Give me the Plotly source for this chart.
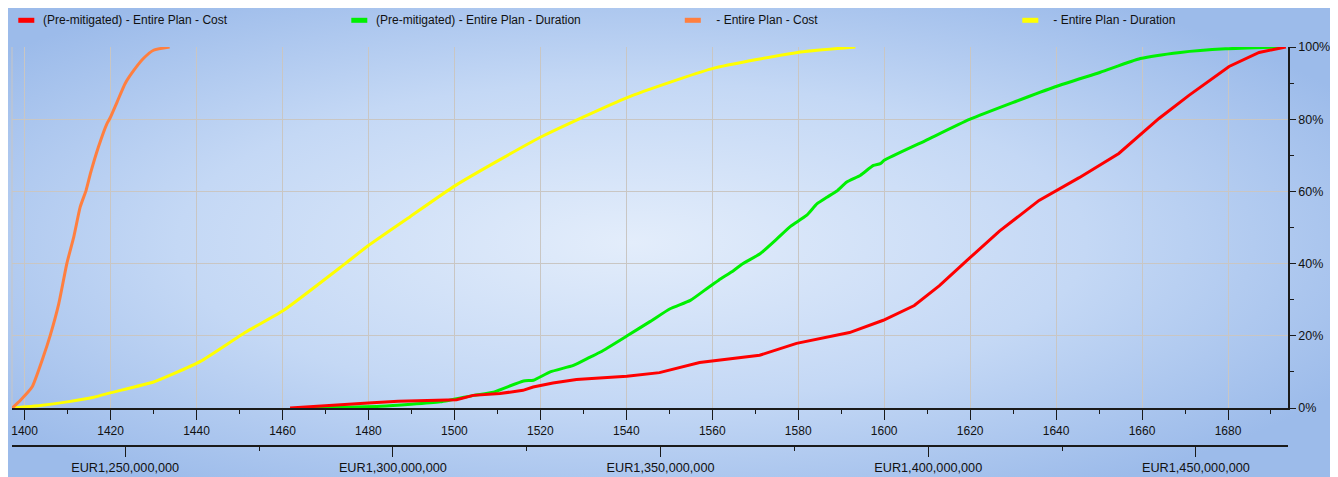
import base64
import plotly.graph_objects as go

# ---------------- data ----------------
# Cost curves: EUR millions vs cumulative %
cost_pre_x = [1280.8, 1287.3, 1295.4, 1301.0, 1305.0, 1311.9, 1315.0, 1320.0, 1324.3, 1326.2,
              1329.9, 1334.3, 1338.6, 1343.7, 1349.8, 1357.3, 1368.5, 1375.4, 1385.3, 1391.6,
              1397.4, 1402.1, 1407.7, 1413.3, 1420.7, 1428.2, 1435.6, 1443.1, 1448.7, 1456.2,
              1461.8, 1466.8]
cost_pre_y = [0, 0.7, 1.4, 1.9, 2.1, 2.3, 3.5, 4.0, 4.9, 5.8,
              6.9, 7.9, 8.3, 8.8, 9.8, 12.6, 14.6, 17.9, 20.9, 24.3,
              28.4, 33.9, 41.5, 49.0, 57.5, 63.8, 70.5, 80.2, 86.6, 94.6,
              98.5, 100]

cost_mit_x = [1228.9, 1230.4, 1232.6, 1234.8, 1236.0, 1237.6, 1239.1, 1240.4, 1241.6, 1242.7,
              1243.5, 1245.0, 1246.6, 1247.2, 1248.5, 1250.0, 1251.6, 1253.4, 1255.3, 1258.3]
cost_mit_y = [0, 2.1, 5.8, 14.6, 20.1, 28.9, 40.0, 47.4, 55.7, 60.3,
              64.9, 72.3, 78.8, 80.4, 84.8, 89.9, 93.5, 96.8, 99.1, 100]

# Duration curves: days vs cumulative %
dur_pre_x = [1465.3, 1482.8, 1496.7, 1504.5, 1509.1, 1516.1, 1518.4, 1522.3, 1527.7, 1531.6,
             1534.0, 1540.2, 1545.6, 1550.2, 1554.9, 1559.1, 1561.5, 1565.0, 1566.9, 1571.2,
             1575.1, 1578.2, 1582.0, 1584.4, 1586.7, 1589.0, 1591.3, 1594.5, 1597.5, 1599.1,
             1600.0, 1609.5, 1620.0, 1639.8, 1650.3, 1659.6, 1668.9, 1679.4, 1692.1]
dur_pre_y = [0, 0.5, 1.7, 3.5, 4.4, 7.5, 7.7, 10.0, 11.8, 14.1,
             15.5, 20.0, 24.0, 27.5, 29.8, 33.4, 35.4, 38.1, 39.8, 42.8,
             46.9, 50.3, 53.4, 56.6, 58.4, 60.1, 62.6, 64.5, 67.2, 67.7,
             68.6, 74.0, 80.0, 89.0, 93.0, 96.8, 98.5, 99.5, 100]

dur_mit_x = [1397.1, 1403.7, 1409.9, 1416.1, 1419.9, 1430.0, 1434.7, 1440.9, 1451.4, 1460.2,
             1474.6, 1480.0, 1489.7, 1500.2, 1520.0, 1540.2, 1560.0, 1579.8, 1593.3]
dur_mit_y = [0, 0.7, 1.7, 3.0, 4.2, 7.2, 9.5, 12.9, 21.0, 27.0,
             40.0, 45.0, 53.0, 61.6, 75.0, 86.0, 94.0, 98.5, 100]

series_names = ["(Pre-mitigated) - Entire Plan - Cost",
                "(Pre-mitigated) - Entire Plan - Duration",
                " - Entire Plan - Cost",
                " - Entire Plan - Duration"]
series_colors = ["#ff0000", "#00f000", "#ff7f3f", "#ffff00"]

dur_range = [1397.07, 1693.96]
cost_range_m = [1228.86, 1467.2]

# ---------------- layout geometry ----------------
# The page body has an 8px margin, so the figure is drawn 8px right/down.
OFF = 8
SW, SH = 1338, 477
W, H = SW - OFF, SH - OFF
PLOT_L, PLOT_R = 11.7, 1287.7
PLOT_T, AXIS_Y_PX = 46.7, 407.7
COST_AXIS_PX = 445.7
L = PLOT_L - OFF
R = SW - PLOT_R
T = PLOT_T - OFF
B = SH - COST_AXIS_PX
PW = W - L - R
PH = H - T - B


def px2x(px):
    return (px - OFF - L) / PW


def py2y(py):
    return (H - B - (py - OFF)) / PH


font_family = "Liberation Sans, Arial, sans-serif"
txt_col = "#111111"

fig = go.Figure()

order = [3, 2, 1, 0]
data_map = {
    0: (cost_pre_x, cost_pre_y, "x2"),
    1: (dur_pre_x, dur_pre_y, "x"),
    2: (cost_mit_x, cost_mit_y, "x2"),
    3: (dur_mit_x, dur_mit_y, "x"),
}
for i in order:
    xs, ys, ax = data_map[i]
    if ax == "x2":
        xs = [v * 1e6 for v in xs]
    shape = "linear" if i == 0 else "spline"
    fig.add_trace(go.Scatter(
        x=xs, y=ys, mode="lines", name=series_names[i],
        line=dict(color=series_colors[i], width=3, shape=shape, smoothing=0.5),
        xaxis=ax, yaxis="y", showlegend=False, hoverinfo="skip",
    ))

# background gradient (radial, light centre)
svg = """<svg xmlns='http://www.w3.org/2000/svg' width='1333' height='470' viewBox='0 0 1333 470' preserveAspectRatio='none'>
<defs><radialGradient id='g' cx='0.47' cy='0.5' r='0.62' gradientUnits='objectBoundingBox'>
<stop offset='0' stop-color='#e3edfb'/>
<stop offset='0.55' stop-color='#c4d8f5'/>
<stop offset='1' stop-color='#9cbbea'/>
</radialGradient></defs>
<rect x='0' y='0' width='1333' height='470' fill='url(#g)'/></svg>"""
src = "data:image/svg+xml;base64," + base64.b64encode(svg.encode()).decode()
bg_x0, bg_y0 = 5, 7
fig.add_layout_image(dict(
    source=src, xref="paper", yref="paper",
    x=px2x(bg_x0), y=py2y(bg_y0),
    sizex=(SW - bg_x0) / PW, sizey=(SH - bg_y0) / PH,
    xanchor="left", yanchor="top", sizing="stretch", layer="below",
))

grid_col = "#c9c6c3"
axis_col = "#1a1a1a"

shapes = [
    dict(type="line", xref="paper", yref="paper", x0=0, x1=0,
         y0=py2y(AXIS_Y_PX), y1=1, line=dict(color=grid_col, width=1), layer="below"),
]

legend_swatch_px = [18, 351, 684.5, 1022]
legend_text_px = [41, 374, 711, 1048]
legend_y_px = 20
annotations = []
for i in range(4):
    shapes.append(dict(type="rect", xref="paper", yref="paper",
                       x0=px2x(legend_swatch_px[i]), x1=px2x(legend_swatch_px[i] + 16),
                       y0=py2y(legend_y_px + 2.5), y1=py2y(legend_y_px - 2.5),
                       fillcolor=series_colors[i], line=dict(width=0)))
    annotations.append(dict(text=series_names[i], xref="paper", yref="paper",
                            x=px2x(legend_text_px[i]), y=py2y(legend_y_px),
                            xanchor="left", yanchor="middle", showarrow=False,
                            font=dict(family=font_family, size=12, color=txt_col)))

fig.update_layout(
    template="none",
    width=W, height=H,
    margin=dict(l=L, r=R, t=T, b=B, pad=0, autoexpand=False),
    paper_bgcolor="white", plot_bgcolor="rgba(0,0,0,0)",
    font=dict(family=font_family, size=12, color=txt_col),
    showlegend=False,
    shapes=shapes, annotations=annotations,
    xaxis=dict(
        range=dur_range, anchor="y", side="bottom", automargin=False,
        tick0=0, dtick=20, ticks="outside", ticklen=10, tickwidth=1, tickcolor=axis_col,
        minor=dict(dtick=10, ticks="outside", ticklen=4, tickcolor=axis_col, showgrid=False),
        showgrid=True, gridcolor=grid_col, gridwidth=1,
        showline=True, linecolor=axis_col, linewidth=1.5,
        zeroline=False, tickfont=dict(size=12, color=txt_col),
        ticklabelstandoff=1,
    ),
    xaxis2=dict(
        range=[v * 1e6 for v in cost_range_m], overlaying="x", anchor="free", position=0,
        side="bottom", automargin=False, tick0=0, dtick=50e6, tickprefix="EUR", tickformat=",.0f",
        ticks="outside", ticklen=10, tickwidth=1, tickcolor=axis_col,
        minor=dict(dtick=25e6, ticks="outside", ticklen=4, tickcolor=axis_col, showgrid=False),
        showgrid=False, showline=True, linecolor=axis_col, linewidth=1.5,
        zeroline=False, tickfont=dict(size=12.7, color=txt_col),
    ),
    yaxis=dict(
        range=[0, 100], domain=[py2y(AXIS_Y_PX), 1], side="right", automargin=False,
        tick0=0, dtick=20, ticksuffix="%",
        ticks="outside", ticklen=6, tickwidth=1, tickcolor=axis_col,
        minor=dict(dtick=10, ticks="outside", ticklen=4, tickcolor=axis_col, showgrid=False),
        showgrid=True, gridcolor=grid_col, gridwidth=1,
        showline=True, linecolor=axis_col, linewidth=1.5,
        zeroline=False, tickfont=dict(size=12.5, color=txt_col),
    ),
)

fig.write_html("out.html")
